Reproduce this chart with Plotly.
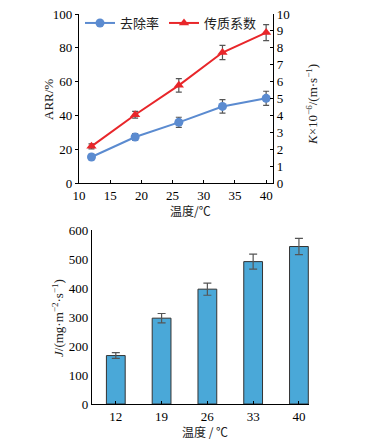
import plotly.graph_objects as go

temps = [12, 19, 26, 33, 40]
removal = [15.4, 27.2, 35.9, 45.3, 50.1]
removal_err = [1.5, 2.0, 3.0, 4.0, 4.2]
kcoef = [2.17, 4.04, 5.78, 7.72, 8.9]
kcoef_err = [0.15, 0.2, 0.4, 0.42, 0.47]
flux_labels = ["12", "19", "26", "33", "40"]
flux = [167, 296, 396, 491, 543]
flux_err = [10, 16, 21, 26, 28]

SERIF = "Liberation Serif, Times New Roman, serif"
CJK = "Noto Sans CJK SC"
BLUE = "#5B8BD0"
RED = "#E8262A"
BAR = "#4AA8D8"

# page offset of plot div (default body margin)
OFF = 8
W, H = 380 - OFF, 442 - OFF


def px(x):
    return (x - OFF) / W


def py(y):
    return 1 - (y - OFF) / H


fig = go.Figure()
fig.add_trace(go.Scatter(
    x=temps, y=removal, name="去除率", mode="lines+markers",
    line=dict(color=BLUE, width=2), marker=dict(symbol="circle", size=9, color=BLUE),
    error_y=dict(type="data", array=removal_err, color="#555555", thickness=1.2, width=3),
    xaxis="x", yaxis="y"))
fig.add_trace(go.Scatter(
    x=temps, y=kcoef, name="传质系数", mode="lines+markers",
    line=dict(color=RED, width=2), marker=dict(symbol="triangle-up", size=9, color=RED),
    error_y=dict(type="data", array=kcoef_err, color="#555555", thickness=1.2, width=3),
    xaxis="x", yaxis="y2"))
fig.add_trace(go.Bar(
    x=list(range(len(flux_labels))), y=flux, width=0.41, showlegend=False,
    marker=dict(color=BAR, line=dict(color="#333333", width=1)),
    error_y=dict(type="data", array=flux_err, color="#555555", thickness=1.2, width=4),
    xaxis="x3", yaxis="y3"))

axis_common = dict(showline=True, linecolor="black", linewidth=1.2, showgrid=False,
                   zeroline=False, ticklen=3, tickcolor="black", automargin=False,
                   ticklabeloverflow="allow",
                   tickfont=dict(family=SERIF, size=13, color="black"))

fig.update_layout(
    width=W, height=H,
    margin=dict(l=0, r=0, t=0, b=0),
    paper_bgcolor="white", plot_bgcolor="white",
    xaxis=dict(domain=[px(79), px(273)], anchor="y", range=[10, 41.1],
               tickvals=[10, 15, 20, 25, 30, 35, 40], ticks="inside", **axis_common),
    yaxis=dict(domain=[py(183), py(14)], anchor="x", range=[0, 100], dtick=20,
               ticks="outside", **axis_common),
    yaxis2=dict(overlaying="y", side="right", anchor="x", range=[0, 10], dtick=1,
                ticks="inside", **axis_common),
    xaxis3=dict(domain=[px(92), px(309)], anchor="y3", range=[-0.52, 4.22],
                tickvals=list(range(len(flux_labels))), ticktext=flux_labels,
                ticks="inside", **axis_common),
    yaxis3=dict(domain=[py(404), py(230)], anchor="x3", range=[0, 600], dtick=100,
                ticks="", **axis_common),
    legend=dict(orientation="h", x=px(80), y=py(23), xanchor="left", yanchor="middle",
                font=dict(family=CJK, size=13, color="#222222"),
                bgcolor="rgba(0,0,0,0)", itemwidth=30, tracegroupgap=0),
    showlegend=True,
)

ann = [
    dict(text="ARR/%", x=49, y=100, textangle=-90, font=dict(family=SERIF, size=13)),
    dict(text="<i>K</i>×10<sup>−6</sup>/(m·s<sup>−1</sup>)", x=312, y=105, textangle=-90,
         font=dict(family=SERIF, size=13)),
    dict(text="温度/℃", x=190, y=210, font=dict(family=CJK, size=12)),
    dict(text="<i>J</i>/(mg·m<sup>−2</sup>·s<sup>−1</sup>)", x=58, y=318, textangle=-90,
         font=dict(family=SERIF, size=13)),
    dict(text="温度 / ℃", x=205, y=431, font=dict(family=CJK, size=12)),
]
for a in ann:
    fig.add_annotation(text=a["text"], x=px(a["x"]), y=py(a["y"]),
                       xref="paper", yref="paper", showarrow=False,
                       textangle=a.get("textangle", 0),
                       xanchor="center", yanchor="middle",
                       font=dict(color="#222222", **a["font"]))

fig.write_html("out.html")
